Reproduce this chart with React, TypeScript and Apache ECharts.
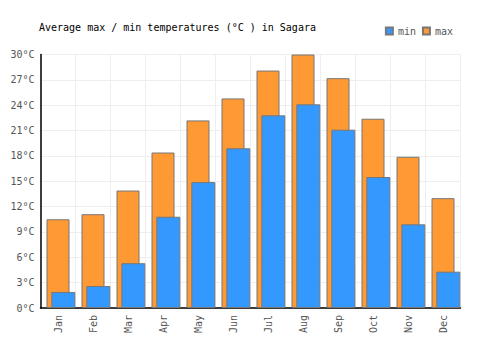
import React, { useEffect, useRef } from "react";
import * as echarts from "echarts";

const months = ["Jan", "Feb", "Mar", "Apr", "May", "Jun", "Jul", "Aug", "Sep", "Oct", "Nov", "Dec"];
const minTemps = [1.9, 2.6, 5.3, 10.8, 14.9, 18.9, 22.8, 24.1, 21.1, 15.5, 9.9, 4.3];
const maxTemps = [10.5, 11.1, 13.9, 18.4, 22.2, 24.8, 28.1, 30.0, 27.2, 22.4, 17.9, 13.0];
const emptySlots = months.map(() => null);

const FONT = "DejaVu Sans Mono";

export default function App() {
  const ref = useRef<HTMLDivElement>(null);
  useEffect(() => {
    if (!ref.current) return;
    const chart = echarts.init(ref.current, undefined, { renderer: "svg" });
    chart.setOption({
      animation: false,
      textStyle: { fontFamily: FONT },
      title: {
        text: "Average max / min temperatures (°C ) in Sagara",
        left: 34,
        top: 17,
        textStyle: { fontFamily: FONT, fontSize: 10, fontWeight: "normal", color: "#000" },
      },
      legend: {
        data: ["min", "max"],
        right: 42,
        top: 21,
        itemWidth: 7,
        itemHeight: 7,
        itemGap: 6,
        icon: "rect",
        textStyle: { fontFamily: FONT, fontSize: 10, color: "#555" },
      },
      grid: { left: 40.5, right: 39.5, top: 54.5, bottom: 42, containLabel: false },
      xAxis: [
        {
          type: "category",
          data: months,
          axisLine: { lineStyle: { color: "#000", width: 1.5 } },
          axisTick: { show: false },
          axisLabel: { rotate: 90, fontFamily: FONT, fontSize: 10, color: "#555", margin: 7 },
          splitLine: { show: true, lineStyle: { color: "#eeeeee", width: 1 } },
        },
        {
          type: "category",
          data: months,
          show: false,
          position: "bottom",
        },
      ],
      yAxis: {
        type: "value",
        min: 0,
        max: 30,
        interval: 3,
        axisLine: { show: true, lineStyle: { color: "#000", width: 1.5 } },
        axisTick: { show: false },
        axisLabel: { formatter: "{value}°C", fontFamily: FONT, fontSize: 10, color: "#555", margin: 6 },
        splitLine: { lineStyle: { color: "#eeeeee", width: 1 } },
      },
      series: [
        {
          name: "max",
          type: "bar",
          xAxisIndex: 0,
          data: maxTemps,
          barWidth: 23,
          itemStyle: { color: "#ff9933", borderColor: "#777777", borderWidth: 1 },
        },
        {
          name: "_offset",
          type: "bar",
          xAxisIndex: 1,
          data: emptySlots,
          barWidth: 10.7,
          barGap: "0%",
          silent: true,
        },
        {
          name: "min",
          type: "bar",
          xAxisIndex: 1,
          data: minTemps,
          barWidth: 24,
          barGap: "0%",
          itemStyle: { color: "#3399ff", borderColor: "#777777", borderWidth: 1 },
        },
      ],
    });
    return () => chart.dispose();
  }, []);
  return <div ref={ref} style={{ position: "absolute", left: 0, top: 0, width: 500, height: 350 }} />;
}
